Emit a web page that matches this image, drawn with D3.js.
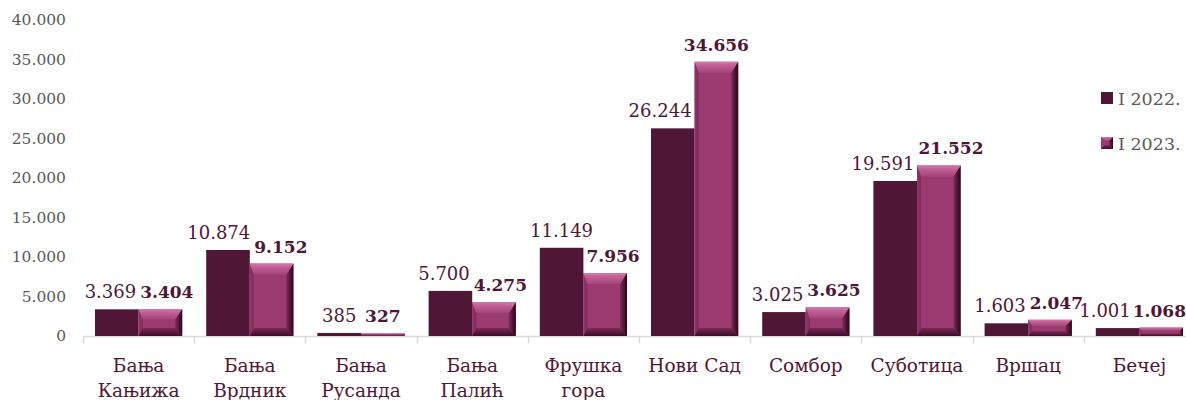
<!DOCTYPE html>
<html>
<head>
<meta charset="utf-8">
<script src="https://cdn.jsdelivr.net/npm/d3@7"></script>
<style>
    body { margin: 0; background: #ffffff; }
    svg { display: block; font-family: "DejaVu Serif", serif; }
</style>
</head>
<body>
<div id="chart"></div>
<script>
// Data
const places = ["Бања Кањижа", "Бања Врдник", "Бања Русанда", "Бања Палић", "Фрушка гора",
                "Нови Сад", "Сомбор", "Суботица", "Вршац", "Бечеј"];
const placeLines = [["Бања", "Кањижа"], ["Бања", "Врдник"], ["Бања", "Русанда"], ["Бања", "Палић"],
                    ["Фрушка", "гора"], ["Нови Сад"], ["Сомбор"], ["Суботица"], ["Вршац"], ["Бечеј"]];
const jan2022 = [3369, 10874, 385, 5700, 11149, 26244, 3025, 19591, 1603, 1001];
const jan2023 = [3404, 9152, 327, 4275, 7956, 34656, 3625, 21552, 2047, 1068];
const seriesNames = ["I 2022.", "I 2023."];
const yTicks = [0, 5000, 10000, 15000, 20000, 25000, 30000, 35000, 40000];

const width = 1186;
const height = 400;
const margin = {left: 83, right: -9, top: 19.5, bottom: 64};

const darkColor = "#4f1636";
const pinkColor = "#9b3a6e";
const labelColor = "#4f1636";
const tickColor = "#595959";

// number format with dot as thousands separator
function fmt(v) {
    return d3.format(",")(v).replace(/,/g, ".");
}

const svg = d3.select("#chart")
    .append("svg")
    .attr("width", width)
    .attr("height", height);

// gradients for the bevelled 2023 bars
const defs = svg.append("defs");

function gradient(id, x2, y2, stops) {
    const g = defs.append("linearGradient")
        .attr("id", id)
        .attr("x1", 0).attr("y1", 0)
        .attr("x2", x2).attr("y2", y2);
    stops.forEach(function(s) {
        g.append("stop").attr("offset", s[0]).attr("stop-color", s[1]);
    });
}
gradient("bevTop", 0, 1, [[0, "#d27aab"], [0.35, "#bf5f94"], [1, "#a4457a"]]);
gradient("bevRight", 1, 0, [[0, "#7d2b5a"], [0.6, "#4a1431"], [1, "#26071a"]]);
gradient("bevBottom", 0, 1, [[0, "#7a2a57"], [1, "#3c0c27"]]);
gradient("bevLeft", 1, 0, [[0, "#93356a"], [1, "#7e2b5b"]]);

// Scales
const x0 = d3.scaleBand()
    .domain(places)
    .range([margin.left, width - margin.right])
    .padding(0);

const x1 = d3.scaleBand()
    .domain(seriesNames)
    .range([12, x0.bandwidth() - 12])
    .padding(0);

const yScale = d3.scaleLinear()
    .domain([0, 40000])
    .range([height - margin.bottom, margin.top]);

const base = yScale(0);

// Y axis (labels only)
const yAxis = svg.append("g")
    .attr("transform", "translate(66,0)")
    .call(d3.axisLeft(yScale).tickValues(yTicks).tickSize(0).tickPadding(0).tickFormat(fmt));
yAxis.select(".domain").remove();
yAxis.selectAll("text")
    .attr("font-family", "DejaVu Serif")
    .attr("font-size", 15.5)
    .attr("fill", tickColor);

// X axis: line with tick marks between categories
const xAxis = svg.append("g")
    .attr("transform", `translate(0,${base + 0.5})`);
xAxis.append("line")
    .attr("x1", x0.range()[0])
    .attr("x2", x0.range()[1])
    .attr("stroke", "#d9d9d9")
    .attr("stroke-width", 1.5);
xAxis.selectAll("line.tick")
    .data(places.concat(["end"]))
    .enter()
    .append("line")
        .attr("class", "tick")
        .attr("x1", function(d, i) { return Math.round(x0.range()[0] + i * x0.step()) + 0.5; })
        .attr("x2", function(d, i) { return Math.round(x0.range()[0] + i * x0.step()) + 0.5; })
        .attr("y1", 0)
        .attr("y2", 7)
        .attr("stroke", "#d9d9d9")
        .attr("stroke-width", 1.5);

// category labels
const catText = svg.selectAll("text.cat")
    .data(places)
    .enter()
    .append("text")
        .attr("class", "cat")
        .attr("x", function(d) { return x0(d) + x0.bandwidth() / 2; })
        .attr("y", 372)
        .attr("text-anchor", "middle")
        .attr("font-size", 18.5)
        .attr("fill", labelColor);
catText.each(function(d, i) {
    const t = d3.select(this);
    placeLines[i].forEach(function(line, j) {
        t.append("tspan")
            .attr("x", x0(d) + x0.bandwidth() / 2)
            .attr("dy", j === 0 ? 0 : 25)
            .text(line);
    });
});

// Bars 2022 (flat)
svg.selectAll("rect.b2022")
    .data(places)
    .enter()
    .append("rect")
        .attr("class", "b2022")
        .attr("x", function(d) { return x0(d) + x1(seriesNames[0]); })
        .attr("y", function(d, i) { return yScale(jan2022[i]); })
        .attr("width", x1.bandwidth())
        .attr("height", function(d, i) { return base - yScale(jan2022[i]); })
        .attr("fill", darkColor);

// Bars 2023 (bevelled)
const bev = svg.selectAll("g.b2023")
    .data(places)
    .enter()
    .append("g")
        .attr("class", "b2023");

bev.each(function(d, i) {
    const g = d3.select(this);
    const x = x0(d) + x1(seriesNames[1]);
    const w = x1.bandwidth();
    const y = yScale(jan2023[i]);
    const h = base - y;
    const bt = Math.min(11, h * 0.38);
    const bb = Math.min(8, h * 0.3);
    const br = Math.min(7, h * 0.4);
    const bl = Math.min(4, h * 0.3);

    g.append("rect")
        .attr("x", x).attr("y", y)
        .attr("width", w).attr("height", h)
        .attr("fill", pinkColor);

    const pts = function(a) { return a.map(function(p) { return p.join(","); }).join(" "); };

    g.append("polygon")
        .attr("points", pts([[x, y + h], [x + bl, y + h - bb], [x + bl, y + bt], [x, y]]))
        .attr("fill", "url(#bevLeft)");
    g.append("polygon")
        .attr("points", pts([[x, y + h], [x + w, y + h], [x + w - br, y + h - bb], [x + bl, y + h - bb]]))
        .attr("fill", "url(#bevBottom)");
    g.append("polygon")
        .attr("points", pts([[x + w, y], [x + w, y + h], [x + w - br, y + h - bb], [x + w - br, y + bt]]))
        .attr("fill", "url(#bevRight)");
    g.append("polygon")
        .attr("points", pts([[x, y], [x + w, y], [x + w - br, y + bt], [x + bl, y + bt]]))
        .attr("fill", "url(#bevTop)");
});

// Value labels
const lab22 = svg.selectAll("text.l2022")
    .data(places)
    .enter()
    .append("text")
        .attr("class", "l2022")
        .attr("y", function(d, i) { return yScale(jan2022[i]) - 11; })
        .attr("text-anchor", "middle")
        .attr("font-size", 18)
        .attr("fill", labelColor)
        .text(function(d, i) { return fmt(jan2022[i]); });

const lab23 = svg.selectAll("text.l2023")
    .data(places)
    .enter()
    .append("text")
        .attr("class", "l2023")
        .attr("y", function(d, i) { return yScale(jan2023[i]) - 11; })
        .attr("text-anchor", "middle")
        .attr("font-size", 17)
        .attr("font-weight", "bold")
        .attr("fill", labelColor)
        .text(function(d, i) { return fmt(jan2023[i]); });

// keep the two labels of a group from running into each other
const n22 = lab22.nodes();
const n23 = lab23.nodes();
const gap = 2;
places.forEach(function(d, i) {
    const w1 = n22[i].getComputedTextLength();
    const w2 = n23[i].getComputedTextLength();
    const pinkLeft = x0(d) + x1(seriesNames[1]);
    let c1 = x0(d) + x1(seriesNames[0]) + x1.bandwidth() / 2;
    let c2 = pinkLeft + x1.bandwidth() / 2;
    const y1 = yScale(jan2022[i]) - 11;
    const y2 = yScale(jan2023[i]) - 11;

    if (Math.abs(y1 - y2) < 18) {
        const overlap = (w1 / 2 + w2 / 2 + gap + 2) - (c2 - c1);
        if (overlap > 0) {
            c1 -= overlap / 2;
            c2 += overlap / 2;
        }
        // stay inside the picture on the right
        const over = c2 + w2 / 2 - width;
        if (over > 0) {
            c2 -= over;
            c1 = Math.min(c1, c2 - w2 / 2 - gap - w1 / 2);
        }
    } else if (y1 > y2) {
        c1 = Math.min(c1, pinkLeft - 3 - w1 / 2);
    } else {
        c2 = Math.max(c2, pinkLeft + 3 + w2 / 2);
    }
    d3.select(n22[i]).attr("x", c1);
    d3.select(n23[i]).attr("x", c2);
});

// Legend
const legend = svg.append("g")
    .attr("transform", "translate(1101,0)");
const legendY = [92, 137];

seriesNames.forEach(function(s, i) {
    if (i === 0) {
        legend.append("rect")
            .attr("x", 0).attr("y", legendY[i])
            .attr("width", 12).attr("height", 12)
            .attr("fill", darkColor);
    } else {
        const y = legendY[i];
        legend.append("rect")
            .attr("x", 0).attr("y", y)
            .attr("width", 12).attr("height", 12)
            .attr("fill", pinkColor);
        legend.append("polygon")
            .attr("points", `0,${y} 12,${y} 8,${y + 4} 4,${y + 4}`)
            .attr("fill", "url(#bevTop)");
        legend.append("polygon")
            .attr("points", `12,${y} 12,${y + 12} 8,${y + 8} 8,${y + 4}`)
            .attr("fill", "url(#bevRight)");
        legend.append("polygon")
            .attr("points", `0,${y + 12} 12,${y + 12} 8,${y + 8} 4,${y + 8}`)
            .attr("fill", "url(#bevBottom)");
    }
    legend.append("text")
        .attr("x", 17)
        .attr("y", legendY[i] + 12.5)
        .attr("font-size", 17.5)
        .attr("fill", tickColor)
        .text(s);
});
</script>
</body>
</html>
